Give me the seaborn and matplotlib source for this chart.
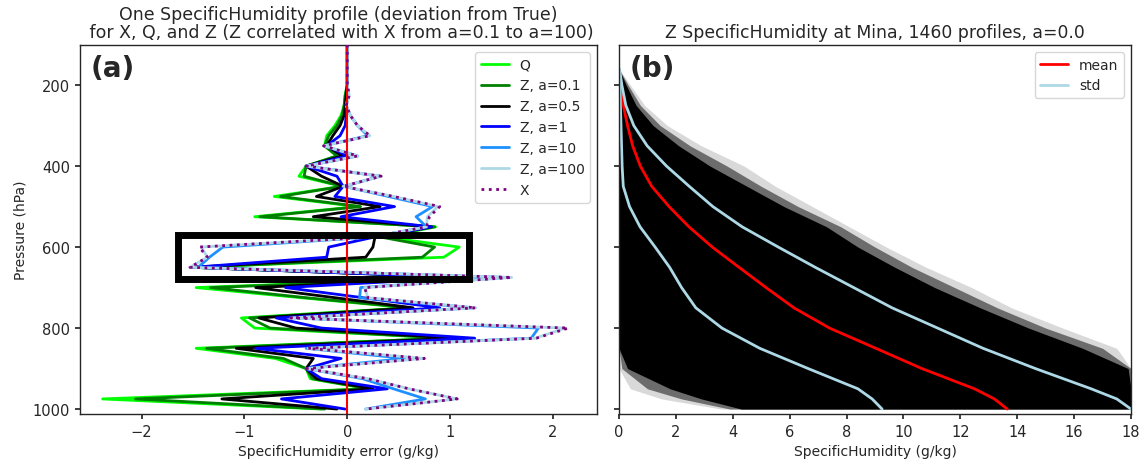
import numpy as np
import matplotlib
matplotlib.use("Agg")
import matplotlib.pyplot as plt
import matplotlib.patches as patches
import seaborn as sns

# -----------------------------
# Data: panel (a), one profile, error vs pressure
# -----------------------------
levels = [100, 125, 150, 175, 200, 225, 250, 275, 300, 325, 350, 375, 400,
          425, 450, 475, 500, 525, 550, 575, 600, 625, 650, 675, 700, 725,
          750, 775, 800, 825, 850, 875, 900, 925, 950, 975, 1000]

q_err = [0, 0, 0, 0, 0, -0.02, -0.03, -0.06, -0.12, -0.2, -0.22, -0.1, -0.4,
         -0.47, -0.05, -0.71, 0.1, -0.9, 0.86, 0.35, 1.09, 0.94, -1.5, 1.2,
         -1.47, -0.45, 0.59, -1.03, -0.9, 0.97, -1.47, -0.7, -0.4, -0.36, 0.2,
         -2.38, -0.25]
z01_err = [0, 0, 0, 0, 0, -0.02, -0.03, -0.05, -0.1, -0.18, -0.22, -0.1, -0.4,
           -0.42, -0.05, -0.65, 0.13, -0.85, 0.85, 0.32, 0.85, 0.73, -1.5, 1.2,
           -1.33, -0.4, 0.62, -0.95, -0.75, 0.97, -1.37, -0.62, -0.4, -0.34,
           0.22, -2.06, -0.22]
z05_err = [0, 0, 0, 0, 0, -0.01, -0.02, -0.03, -0.07, -0.14, -0.2, -0.05, -0.4,
           -0.25, -0.04, -0.3, 0.32, -0.33, 0.82, 0.27, 0.25, 0.18, -1.5, 1.15,
           -0.89, -0.12, 0.64, -0.86, -0.5, 1.04, -1.08, -0.33, -0.4, -0.3,
           0.25, -1.22, -0.1]
z1_err = [0, 0, 0, 0, 0, 0.01, -0.01, -0.01, -0.02, -0.07, -0.2, 0.0, -0.4,
          -0.1, -0.04, -0.12, 0.46, -0.06, 0.82, 0.27, -0.18, -0.2, -1.5, 1.15,
          -0.6, 0.15, 0.9, -0.69, -0.25, 1.24, -0.89, -0.06, -0.4, -0.25, 0.39,
          -0.64, -0.02]
z10_err = [0, 0, 0, 0, 0, 0.01, -0.01, 0.03, 0.1, 0.2, -0.23, 0.1, -0.4,
           0.32, -0.03, 0.4, 0.83, 0.67, 0.77, 0.25, -1.21, -1.34, -1.45, 1.55,
           0.13, 0.12, 1.23, -0.52, 1.86, 1.79, -0.4, 0.56, -0.4, 0.15, 0.45,
           0.76, 0.18]
z100_err = [0, 0, 0, 0, 0, 0.02, -0.01, 0.03, 0.1, 0.22, -0.23, 0.1, -0.4,
            0.33, -0.04, 0.45, 0.88, 0.78, 0.77, 0.25, -1.42, -1.36, -1.53, 1.6,
            0.17, 0.2, 1.25, -0.55, 2.12, 1.83, -0.38, 0.75, -0.4, 0.2, 0.6,
            1.07, 0.18]
x_err = [0, 0, 0, 0, 0, 0.02, -0.01, 0.03, 0.1, 0.22, -0.23, 0.1, -0.4,
         0.33, -0.04, 0.45, 0.9, 0.8, 0.77, 0.25, -1.44, -1.36, -1.53, 1.6,
         0.17, 0.2, 1.25, -0.55, 2.15, 1.84, -0.38, 0.75, -0.4, 0.2, 0.6,
         1.07, 0.18]

series_names = ["Q", "Z, a=0.1", "Z, a=0.5", "Z, a=1", "Z, a=10", "Z, a=100"]
series_vals = [q_err, z01_err, z05_err, z1_err, z10_err, z100_err]
series_colors = ["lime", "green", "black", "blue", "dodgerblue", "lightblue"]

# highlighted region (error range, pressure range)
box_err = [-1.65, 1.18]
box_pres = [570, 678]

# -----------------------------
# Data: panel (b), 1460 profiles at Mina
# -----------------------------
levels_b = [160, 200, 250, 300, 350, 400, 450, 500, 550, 600, 650, 700,
            750, 800, 850, 900, 950, 975, 1000]
q_mean = [0.0, 0.03, 0.15, 0.3, 0.48, 0.75, 1.15, 1.76, 2.46, 3.28, 4.22,
          5.17, 6.15, 7.4, 9.03, 10.65, 12.5, 13.2, 13.65]
std_hi = [0.02, 0.1, 0.24, 0.52, 0.99, 1.67, 2.47, 3.3, 4.33, 5.6, 6.9,
          8.25, 9.6, 11.2, 12.8, 14.64, 16.6, 17.5, 18.0]
std_lo = [0.0, 0.03, 0.05, 0.07, 0.09, 0.11, 0.15, 0.37, 0.74, 1.27, 1.78,
          2.2, 2.7, 3.62, 4.95, 6.65, 8.4, 8.9, 9.25]
# spread of the individual profiles (dense core, fuzzy edge, faint outliers)
core_lo = [0, 0, 0, 0, 0, 0, 0, 0, 0, 0, 0, 0, 0, 0, 0, 0.3, 1.8, 2.9, 4.3]
core_hi = [0.0, 0.25, 0.6, 1.2, 2.1, 3.2, 4.5, 5.8, 7.3, 8.4, 9.7, 11.1,
           12.7, 14.4, 16.3, 17.9, 18.0, 18.0, 18.0]
mid_lo = [0, 0, 0, 0, 0, 0, 0, 0, 0, 0, 0, 0, 0, 0, 0, 0.1, 1.0, 2.2, 3.9]
mid_hi = [0.0, 0.32, 0.75, 1.45, 2.5, 3.8, 5.0, 6.3, 7.8, 9.0, 10.3, 11.8,
          13.3, 15.0, 17.0, 18.0, 18.0, 18.0, 18.0]
edge_lo = [0, 0, 0, 0, 0, 0, 0, 0, 0, 0, 0, 0, 0, 0, 0, 0, 0.4, 1.5, 3.6]
edge_hi = [0.0, 0.4, 0.9, 1.7, 2.9, 4.4, 5.5, 6.8, 8.1, 9.4, 10.8, 12.4,
           13.8, 15.6, 17.5, 18.0, 18.0, 18.0, 18.0]

# -----------------------------
# Style
# -----------------------------
sns.set_theme(style="ticks", rc={"xtick.major.size": 3.5,
                                 "ytick.major.size": 3.5,
                                 "axes.linewidth": 1.0})
plt.rcParams["font.family"] = ["DejaVu Sans"]

fig, (ax1, ax2) = plt.subplots(1, 2, figsize=(11.42, 4.6), dpi=100,
                               sharey=True)
ax1.set_position([80 / 1142, 0.098, 517 / 1142, 0.802])
ax2.set_position([619 / 1142, 0.098, 512 / 1142, 0.802])

# -----------------------------
# Panel (a)
# -----------------------------
for name, vals, col in zip(series_names, series_vals, series_colors):
    sns.lineplot(x=vals, y=levels, sort=False, estimator=None, color=col,
                 lw=2, label=name, ax=ax1)
ax1.axvline(0, color="red", lw=1.5, zorder=2.5)
sns.lineplot(x=x_err, y=levels, sort=False, estimator=None, color="purple",
             lw=2, ls=":", label="X", ax=ax1, zorder=3)

ax1.add_patch(patches.Rectangle((box_err[0], box_pres[0]),
                                box_err[1] - box_err[0],
                                box_pres[1] - box_pres[0],
                                fill=False, ec="black", lw=5, zorder=4))

ax1.set_xlim(-2.6, 2.43)
ax1.set_ylim(1012, 101)
ax1.set_yticks([200, 400, 600, 800, 1000])
ax1.set_xticks([-2, -1, 0, 1, 2])
ax1.tick_params(labelsize=10.5)
ax1.set_xlabel("SpecificHumidity error (g/kg)", fontsize=10)
ax1.set_ylabel("Pressure (hPa)", fontsize=10)
ax1.set_title("One SpecificHumidity profile (deviation from True)\n"
              " for X, Q, and Z (Z correlated with X from a=0.1 to a=100)",
              fontsize=12.5, linespacing=1.0)
ax1.legend(loc="upper right", fontsize=10)
ax1.text(0.02, 0.975, "(a)", transform=ax1.transAxes, fontsize=20,
         fontweight="bold", va="top", ha="left")

# -----------------------------
# Panel (b)
# -----------------------------
ax2.fill_betweenx(levels_b, edge_lo, edge_hi, color="black", alpha=0.15,
                  lw=0)
ax2.fill_betweenx(levels_b, mid_lo, mid_hi, color="black", alpha=0.5,
                  lw=0)
ax2.fill_betweenx(levels_b, core_lo, core_hi, color="black", lw=0)
sns.lineplot(x=q_mean, y=levels_b, sort=False, estimator=None, color="red",
             lw=2, label="mean", ax=ax2)
sns.lineplot(x=std_hi, y=levels_b, sort=False, estimator=None,
             color="lightblue", lw=2, label="std", ax=ax2)
sns.lineplot(x=std_lo, y=levels_b, sort=False, estimator=None,
             color="lightblue", lw=2, ax=ax2)

ax2.set_xlim(0, 18)
ax2.set_xticks(range(0, 19, 2))
ax2.tick_params(labelsize=10.5)
ax2.set_xlabel("SpecificHumidity (g/kg)", fontsize=10)
ax2.set_ylabel("")
ax2.set_title("Z SpecificHumidity at Mina, 1460 profiles, a=0.0",
              fontsize=12.4)
ax2.legend(loc="upper right", fontsize=10)
ax2.text(0.021, 0.975, "(b)", transform=ax2.transAxes, fontsize=20,
         fontweight="bold", va="top", ha="left")

plt.savefig("out.png", dpi=100)
